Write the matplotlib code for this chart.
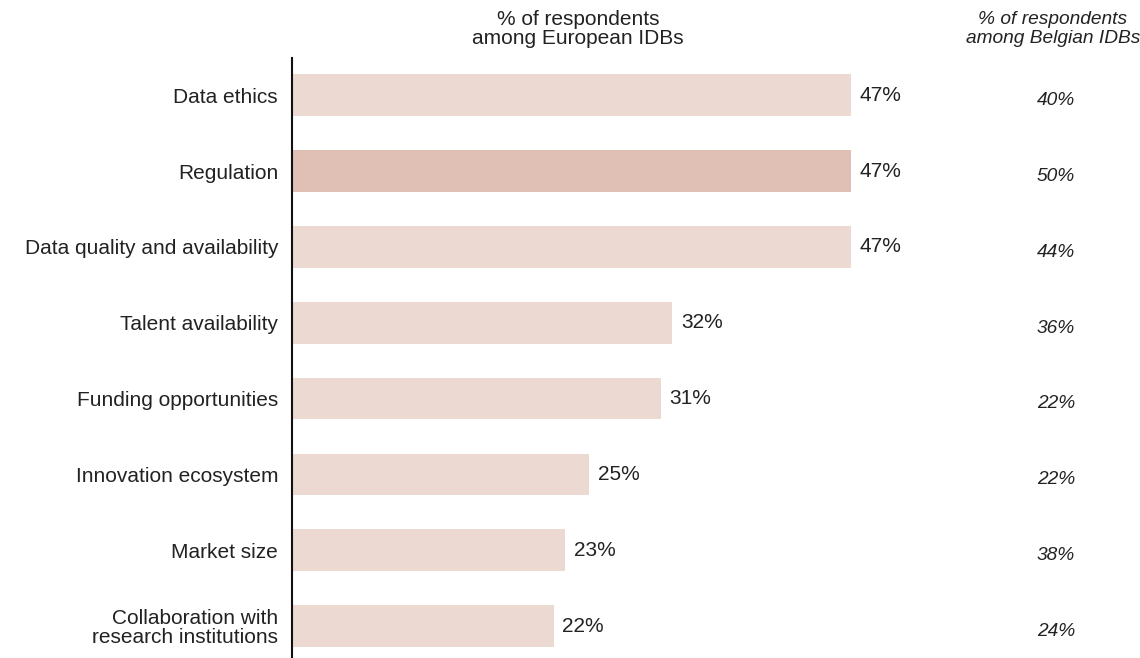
import matplotlib.pyplot as plt
from matplotlib.transforms import blended_transform_factory

categories = [
    "Data ethics",
    "Regulation",
    "Data quality and availability",
    "Talent availability",
    "Funding opportunities",
    "Innovation ecosystem",
    "Market size",
    "Collaboration with\nresearch institutions",
]
european = [47, 47, 47, 32, 31, 25, 23, 22]
belgian = [40, 50, 44, 36, 22, 22, 38, 24]
highlight = "Regulation"

plt.rcParams["font.family"] = ["Liberation Sans", "DejaVu Sans"]
FS = 15
FS_IT = 13.8
TXT = "#222222"

W, H = 1140, 658
fig = plt.figure(figsize=(W / 100, H / 100), dpi=100)
ax = fig.add_axes([292 / W, 0, (W - 292) / W, 600 / H])

colors = ["#e0c0b5" if c == highlight else "#ecd9d2" for c in categories]
y = list(range(len(categories)))
ax.barh(y, european, height=0.55, color=colors)

ax.set_xlim(0, (W - 292) / 11.89)
ax.set_ylim(7.42, -0.49)

for yi, v in zip(y, european):
    ax.annotate(f"{v}%", (v, yi), xytext=(6, 0), textcoords="offset points",
                va="center", ha="left", fontsize=FS, color=TXT)

# Belgian column sits to the right of the bars, one value per row
trans = blended_transform_factory(fig.transFigure, ax.transData)
for yi, v in zip(y, belgian):
    ax.text(1056 / W, yi + 0.07, f"{v}%", transform=trans, ha="center",
            va="center", fontsize=FS_IT, style="italic", color=TXT)

ax.set_yticks(y)
ax.set_yticklabels(categories, fontsize=FS, color=TXT, linespacing=1.0)
ax.tick_params(axis="y", length=0, pad=10)
ax.set_xticks([])
for side in ("top", "right", "bottom"):
    ax.spines[side].set_visible(False)
ax.spines["left"].set_linewidth(1.5)
ax.spines["left"].set_color("#111111")

fig.text(578 / W, 1 - 29 / H, "% of respondents\namong European IDBs", ha="center",
         va="center", fontsize=FS, color=TXT, linespacing=1.0)
fig.text(1053 / W, 1 - 29 / H, "% of respondents\namong Belgian IDBs", ha="center",
         va="center", fontsize=FS_IT, style="italic", color=TXT, linespacing=1.15)

fig.savefig("out.png", dpi=100)
